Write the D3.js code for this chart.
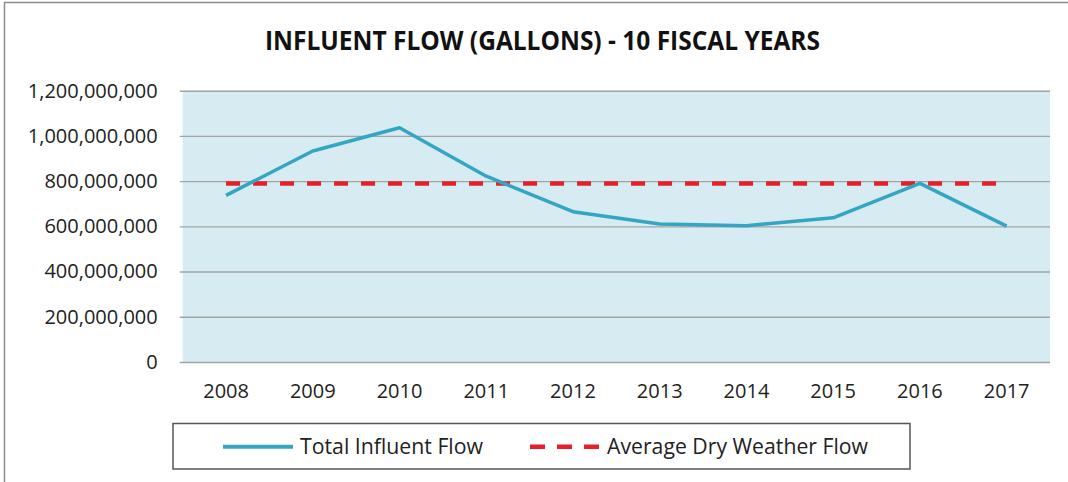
<!DOCTYPE html>
<html>
<head>
<meta charset="utf-8">
<script src="https://cdn.jsdelivr.net/npm/d3@7"></script>
<style>
    body { margin: 0; background: #ffffff; }
    svg { display: block; font-family: "Open Sans", sans-serif; }
</style>
</head>
<body>
<div id="chart"></div>
<script>

// chart data
var years = ["2008", "2009", "2010", "2011", "2012", "2013", "2014", "2015", "2016", "2017"];
var totalFlow = [737e6, 933e6, 1036e6, 822e6, 665e6, 610e6, 603e6, 638e6, 790e6, 601e6];
var dryWeatherFlow = [790e6, 790e6, 790e6, 790e6, 790e6, 790e6, 790e6, 790e6, 790e6, 790e6];
var yTicks = [0, 200e6, 400e6, 600e6, 800e6, 1000e6, 1200e6];
var seriesNames = ["Total Influent Flow", "Average Dry Weather Flow"];

var svgWidth = 1068;
var svgHeight = 482;

var margin = {
    top: 90.7,
    bottom: 120,
    right: 18,
    left: 182.7
};

var height = svgHeight - margin.top - margin.bottom;
var width = svgWidth - margin.left - margin.right;

var svg = d3.select("#chart")
    .append("svg")
    .attr("width", svgWidth)
    .attr("height", svgHeight);

// outer chart border (only left and top visible)
svg.append("rect")
    .attr("x", 4.5)
    .attr("y", 2.5)
    .attr("width", 1200)
    .attr("height", 600)
    .attr("fill", "none")
    .attr("stroke", "#8c8c8c")
    .attr("stroke-width", 1.5);

// title
svg.append("text")
    .attr("x", 265)
    .attr("y", 49.5)
    .attr("font-size", "26px")
    .attr("font-weight", "bold")
    .attr("fill", "#111")
    .attr("textLength", 555)
    .attr("lengthAdjust", "spacingAndGlyphs")
    .text("INFLUENT FLOW (GALLONS) - 10 FISCAL YEARS");

var chartGroup = svg.append("g")
    .attr("transform", `translate(${margin.left}, ${margin.top})`);

// scales
var xBandScale = d3.scaleBand()
    .domain(years)
    .range([0, width]);

var yLinearScale = d3.scaleLinear()
    .domain([0, 1200e6])
    .range([height, 0]);

var xCenter = d => xBandScale(d) + xBandScale.bandwidth() / 2;

// plot background
chartGroup.append("rect")
    .attr("width", width)
    .attr("height", height)
    .attr("fill", "#d6ecf2");

// gridlines
var gridAxis = d3.axisLeft(yLinearScale)
    .tickValues(yTicks)
    .tickSize(-(width + 3))
    .tickFormat("");

var grid = chartGroup.append("g")
    .attr("transform", "translate(-3, 0)")
    .call(gridAxis);
grid.select(".domain").remove();
grid.selectAll("line")
    .attr("stroke", "#a3a3a3")
    .attr("stroke-width", 1.4);

// y axis labels
var yAxis = d3.axisLeft(yLinearScale)
    .tickValues(yTicks)
    .tickSize(0)
    .tickPadding(25)
    .tickFormat(d3.format(","));

var yAxisGroup = chartGroup.append("g").call(yAxis);
yAxisGroup.select(".domain").remove();
yAxisGroup.selectAll("text")
    .attr("font-family", "Open Sans, sans-serif")
    .attr("font-size", "20px")
    .attr("fill", "#222");

// x axis labels
var xAxis = d3.axisBottom(xBandScale)
    .tickSize(0)
    .tickPadding(22);

var xAxisGroup = chartGroup.append("g")
    .attr("transform", `translate(0, ${height})`)
    .call(xAxis);
xAxisGroup.select(".domain").remove();
xAxisGroup.selectAll("text")
    .attr("font-family", "Open Sans, sans-serif")
    .attr("font-size", "20px")
    .attr("fill", "#222");

// lines
var line = d3.line()
    .x((d, i) => xCenter(years[i]))
    .y(d => yLinearScale(d));

chartGroup.append("path")
    .datum(dryWeatherFlow)
    .attr("d", line)
    .attr("fill", "none")
    .attr("stroke", "#e6202a")
    .attr("stroke-width", 4.5)
    .attr("stroke-dasharray", "14,13");

chartGroup.append("path")
    .datum(totalFlow)
    .attr("d", line)
    .attr("fill", "none")
    .attr("stroke", "#34a5c3")
    .attr("stroke-width", 3.5)
    .attr("stroke-linejoin", "round");

// legend
var legend = svg.append("g");

legend.append("rect")
    .attr("x", 173)
    .attr("y", 423.5)
    .attr("width", 737)
    .attr("height", 45.5)
    .attr("fill", "#fff")
    .attr("stroke", "#555")
    .attr("stroke-width", 1.5);

legend.append("line")
    .attr("x1", 223).attr("x2", 293)
    .attr("y1", 446.7).attr("y2", 446.7)
    .attr("stroke", "#34a5c3")
    .attr("stroke-width", 4);

legend.append("line")
    .attr("x1", 530).attr("x2", 600)
    .attr("y1", 446.7).attr("y2", 446.7)
    .attr("stroke", "#e6202a")
    .attr("stroke-width", 4.5)
    .attr("stroke-dasharray", "15,12");

var legendText = [
    { x: 300, len: 183 },
    { x: 607, len: 261 }
];

legend.selectAll(".legend-label")
    .data(seriesNames)
    .enter()
    .append("text")
    .attr("class", "legend-label")
    .attr("x", (d, i) => legendText[i].x)
    .attr("y", 453.5)
    .attr("font-size", "21px")
    .attr("fill", "#222")
    .attr("textLength", (d, i) => legendText[i].len)
    .attr("lengthAdjust", "spacingAndGlyphs")
    .text(d => d);

</script>
</body>
</html>
